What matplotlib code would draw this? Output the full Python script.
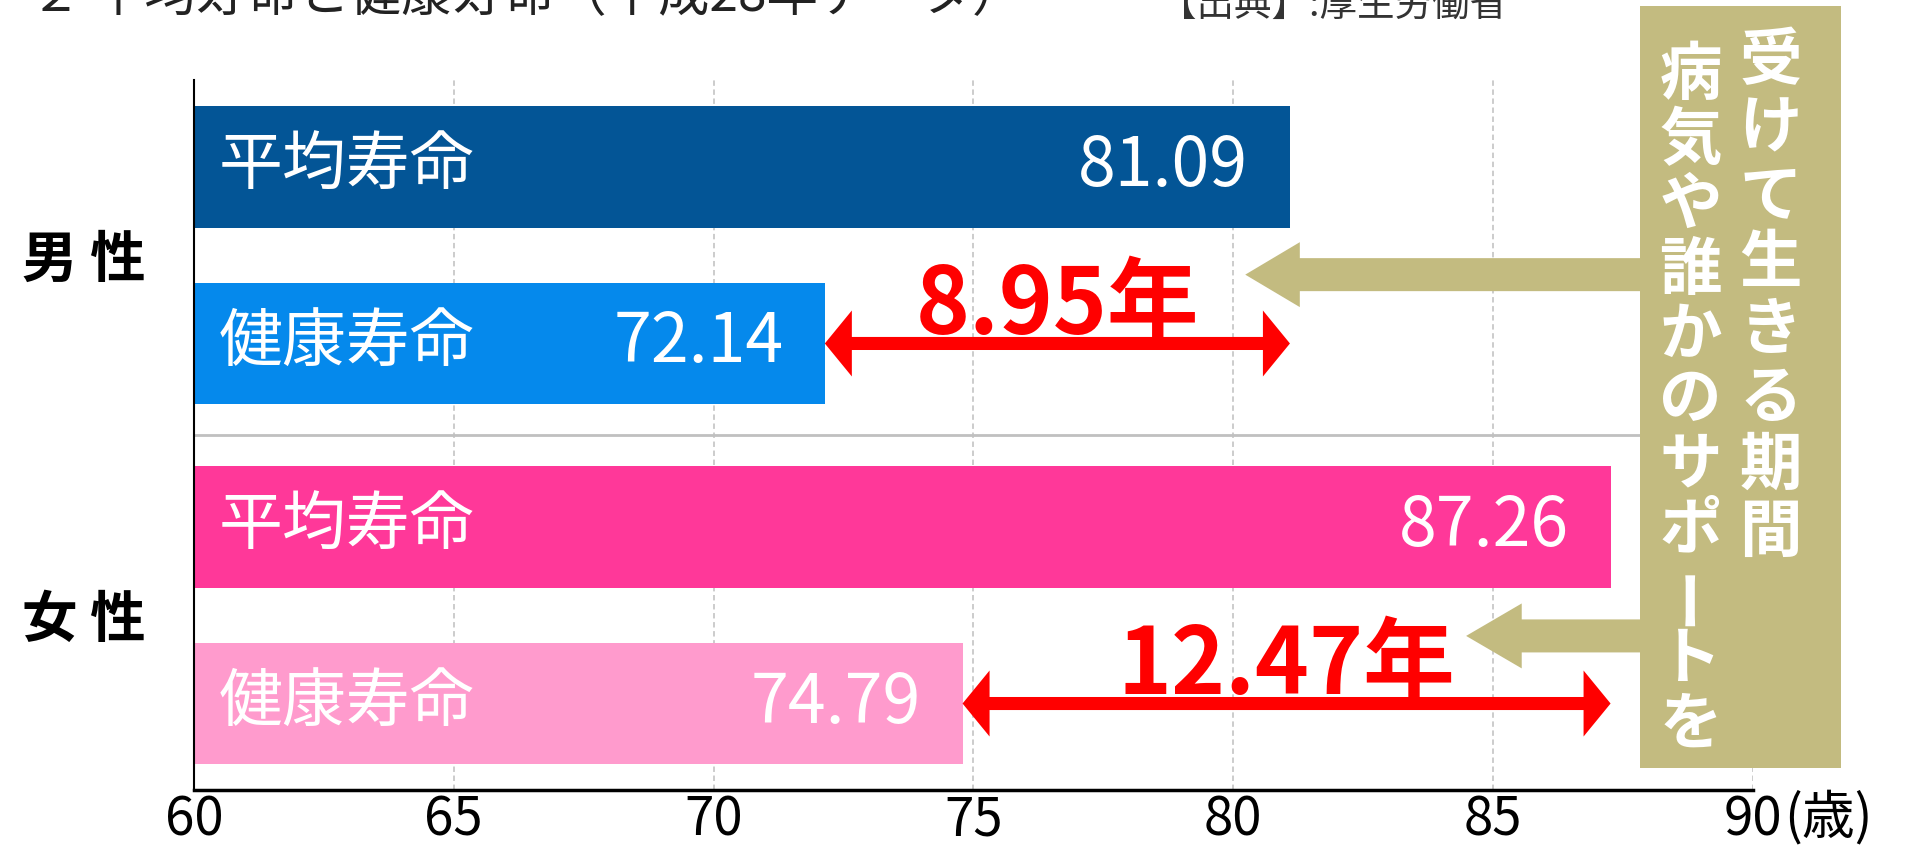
import matplotlib
matplotlib.use('Agg')
import matplotlib.pyplot as plt
from matplotlib.patches import Polygon, Rectangle

plt.rcParams['font.family'] = ['Noto Sans CJK JP', 'DejaVu Sans']

# data
groups = ['男 性', '女 性']
bar_labels = ['平均寿命', '健康寿命', '平均寿命', '健康寿命']
values = [81.09, 72.14, 87.26, 74.79]
colors = ['#035596', '#0589EC', '#FF3899', '#FF9BCD']
x_ticks = [60, 65, 70, 75, 80, 85, 90]
note_right = '受けて生きる期間'
note_left = '病気や誰かのサポートを'
title = '２ 平均寿命と健康寿命（平成28年データ）'
source = '【出典】:厚生労働省'
unit = '(歳)'

TAN = '#C3BB80'
RED = '#FF0000'

fig = plt.figure(figsize=(19.05, 8.49), dpi=100)
ax = fig.add_axes([0.1018, 0.0695, 0.8184, 0.8363])

# bar rows: two per group, small extra gap between groups
pos = [0, 1, 2.04, 3.04]
ax.barh(pos, values, height=0.69, color=colors, zorder=2)

for p, v, lab in zip(pos, values, bar_labels):
    ax.text(60.48, p, lab, ha='left', va='center', color='white', fontsize=46, zorder=4)
    ax.text(v - 0.8, p, f'{v:.2f}', ha='right', va='center', color='white', fontsize=49, zorder=4)


def double_arrow(x0, x1, y, L=0.52, h=0.187, s=0.037):
    return [(x0, y), (x0 + L, y - h), (x0 + L, y - s), (x1 - L, y - s), (x1 - L, y - h),
            (x1, y), (x1 - L, y + h), (x1 - L, y + s), (x0 + L, y + s), (x0 + L, y + h)]


def left_arrow(tip, base, end, y, h=0.184, s=0.0935):
    return [(tip, y), (base, y - h), (base, y - s), (end, y - s),
            (end, y + s), (base, y + s), (base, y + h)]


# gap arrows between healthy and average life expectancy
for i in range(2):
    avg, hl = values[2 * i], values[2 * i + 1]
    y = pos[2 * i + 1]
    ax.add_patch(Polygon(double_arrow(hl, avg, y), closed=True, color=RED, lw=0, zorder=3))
    ax.text((hl + avg) / 2, y - 0.055, f'{avg - hl:.2f}年', ha='center', va='baseline',
            color=RED, fontsize=66, fontweight='bold', zorder=4)

# tan callout box with arrows
box_x0, box_x1 = 87.82, 91.69
box_y0, box_y1 = -0.912, 3.405
ax.add_patch(Rectangle((box_x0, box_y0), box_x1 - box_x0, box_y1 - box_y0,
                       color=TAN, lw=0, zorder=5, clip_on=False))
ax.add_patch(Polygon(left_arrow(80.23, 81.28, box_x0 + 0.1, 0.61), closed=True,
                     color=TAN, lw=0, zorder=5, clip_on=False))
ax.add_patch(Polygon(left_arrow(84.48, 85.55, box_x0 + 0.1, 2.657), closed=True,
                     color=TAN, lw=0, zorder=5, clip_on=False))

# vertical text, one character per row
for col, x, y0, step in [(note_right, 90.34, -0.595, 0.381), (note_left, 88.80, -0.52, 0.368)]:
    for i, ch in enumerate(col):
        ax.text(x, y0 + i * step, ch, ha='center', va='center', color='white',
                fontsize=45, fontweight='bold', rotation=90 if ch == 'ー' else 0,
                zorder=6)

# separator between male and female
ax.axhline((pos[1] + pos[2]) / 2, color='#c0c0c0', lw=2, zorder=1.5)

ax.set_xlim(60, 90)
ax.set_ylim(3.530, -0.493)
ax.set_axisbelow(True)
ax.grid(axis='x', linestyle=(0, (3, 2)), color='#c8c8c8', lw=1.3)

ax.set_xticks(x_ticks)
ax.tick_params(axis='x', length=0, labelsize=38, pad=2)
ax.set_yticks([(pos[0] + pos[1]) / 2, (pos[2] + pos[3]) / 2])
ax.set_yticklabels(groups, fontsize=40, fontweight='bold')
ax.tick_params(axis='y', length=0, pad=35)

ax.spines['top'].set_visible(False)
ax.spines['right'].set_visible(False)
ax.spines['left'].set_linewidth(1.5)
ax.spines['bottom'].set_linewidth(2.5)

fig.text(1784 / 1905, 1 - 818 / 849, unit, ha='left', va='center', fontsize=38)
# title and source sit mostly above the canvas, as in the reference crop
fig.text(30 / 1905, 1 - 11 / 849, title, ha='left', va='baseline', fontsize=37, color='#222222')
fig.text(1159 / 1905, 1 - 17 / 849, source, ha='left', va='baseline', fontsize=27, color='#333333')

fig.savefig('out.png', dpi=100)
